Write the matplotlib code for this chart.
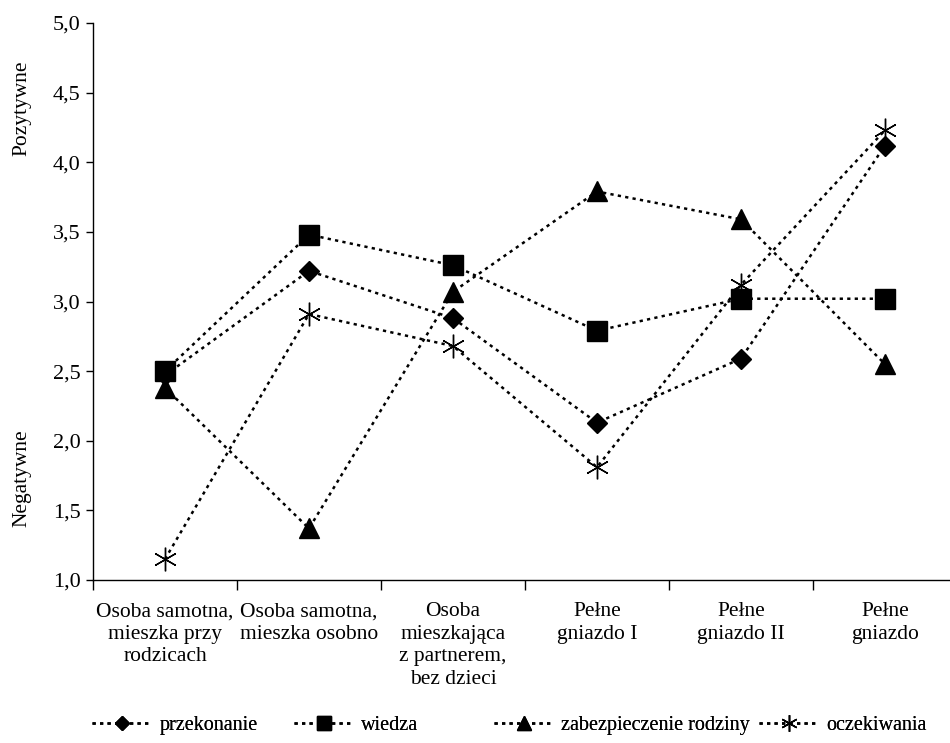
import numpy as np
import matplotlib
matplotlib.use('Agg')
from matplotlib import pyplot as plt

plt.rcParams['font.family'] = ['Liberation Serif', 'DejaVu Serif']

categories = ['Osoba samotna,\nmieszka przy\nrodzicach', 'Osoba samotna,\nmieszka osobno',
              'Osoba\nmieszkająca\nz partnerem,\nbez dzieci', 'Pełne\ngniazdo I',
              'Pełne\ngniazdo II', 'Pełne\ngniazdo']
przekonanie = [2.47, 3.22, 2.88, 2.13, 2.59, 4.12]
wiedza = [2.50, 3.48, 3.26, 2.79, 3.02, 3.02]
zabezpieczenie = [2.38, 1.37, 3.07, 3.79, 3.59, 2.55]
oczekiwania = [1.15, 2.91, 2.68, 1.81, 3.12, 4.23]
yticks = [1.0, 1.5, 2.0, 2.5, 3.0, 3.5, 4.0, 4.5, 5.0]
fs = 15.5

fig = plt.figure(figsize=(9.5, 7.43), dpi=100)
ax = fig.add_axes([93/950, 1-580/743, (957-93)/950, (580-23)/743])
x = np.arange(len(categories))
ls = (0, (1.3, 1.7))
kw = dict(color='black', lw=1.8, ls=ls, mfc='black', mec='black')
lines = []
lines += ax.plot(x, przekonanie, marker='D', ms=10, label='przekonanie', **kw)
lines += ax.plot(x, wiedza, marker='s', ms=14, label='wiedza', **kw)
lines += ax.plot(x, zabezpieczenie, marker='^', ms=15, label='zabezpieczenie rodziny', **kw)
lines += ax.plot(x, oczekiwania, marker=(6, 2, 0), ms=17, mew=1.0, label='oczekiwania', **kw)

ax.set_xlim(-0.5, 5.5)
ax.set_ylim(1.0, 5.0)
ax.set_yticks(yticks)
ax.set_yticklabels([f'{v:.1f}'.replace('.', ',') for v in yticks], fontsize=16)
ax.tick_params(axis='y', length=5, width=1, pad=4)
ax.set_xticks(x)
ax.set_xticklabels(categories, fontsize=fs, linespacing=1.25)
ax.set_xticks(np.arange(-0.5, 6, 1), minor=True)
ax.tick_params(axis='x', which='major', length=0, pad=16)
ax.tick_params(axis='x', which='minor', length=7, width=1, direction='out')
for s in ['top', 'right']:
    ax.spines[s].set_visible(False)
for s in ['left', 'bottom']:
    ax.spines[s].set_linewidth(1.0)

fig.text(22/950, 1-108/743, 'Pozytywne', rotation=90, ha='center', va='center', fontsize=fs)
fig.text(22/950, 1-478/743, 'Negatywne', rotation=90, ha='center', va='center', fontsize=fs)

# one legend per series, each placed at its own column start
starts = [92, 294, 494, 759]
for ln, x0 in zip(lines, starts):
    lg = fig.legend([ln], [ln.get_label()], loc='center left',
                    bbox_to_anchor=(x0/950, 1-725/743), frameon=False, fontsize=14.5,
                    handlelength=3.0, handletextpad=0.35, borderaxespad=0, borderpad=0,
                    markerscale=0.7, numpoints=1)
    fig.add_artist(lg)

fig.savefig('out.png', dpi=100)
